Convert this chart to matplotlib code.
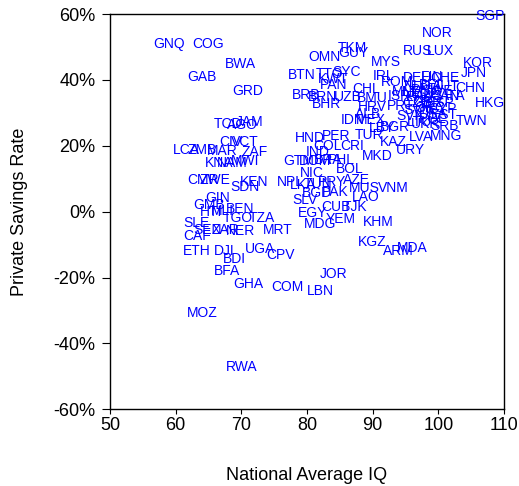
import matplotlib
matplotlib.use("Agg")
import matplotlib.pyplot as plt
from matplotlib.ticker import FuncFormatter, FixedLocator

plt.rcParams['font.family'] = ['Liberation Sans', 'DejaVu Sans']

codes = ["SGP","NOR","RUS","LUX","KOR","JPN","CHN","HKG","TWN","TKM","GUY","OMN","MYS",
         "BTN","TTO","SYC","KWT","PAN","BRB","BRN","UZB","BHR","IRL","ROM","DEU","FIN","CHE",
         "CHL","BMU","HRV","ALB","IDN","MEX","ISR","PRT","NLD","BEL","AUT","DNK","SWE","NZL",
         "AUS","CAN","ITA","FRA","GBR","ESP","CZE","GRC","CYP","SVN","USA","SVK","EST","POL",
         "LTU","UKR","BGR","LBY","SRB","MLT","HND","PER","TUR","KAZ","LVA","MNG","URY","MKD",
         "IND","COL","CRI","GTM","DOM","BRA","PHL","NIC","BOL","NPL","LKA","TUN","PRY","AZE",
         "MUS","VNM","BGD","PAK","SLV","LAO","CUB","TJK","EGY","YEM","MDG","KHM","KGZ","ARM",
         "MDA","JOR","LBN","COM","CPV","UGA","GHA","BFA","BDI","ETH","DJI","CAF","SLE","SEN",
         "ZAR","NER","MRT","GIN","GMB","HTI","MLI","BEN","TGO","TZA","CMR","ZWE","SDN","KEN",
         "KNA","NAM","MWI","LCA","ZMB","MAR","ZAF","CIV","VCT","TCD","AGO","JAM","GNQ","COG",
         "BWA","GAB","GRD","MOZ","RWA"]

iq = [107.9,99.9,96.9,100.3,106.0,105.4,104.8,107.9,105.1,86.9,87.0,82.6,92.0,
      79.2,83.5,86.1,84.0,84.0,79.8,82.4,86.2,83.0,91.7,93.7,96.9,99.0,101.0,
      89.0,89.9,89.9,89.3,86.9,89.7,94.0,94.2,96.9,99.0,101.2,98.0,99.9,96.4,
      98.7,101.0,102.5,97.2,98.4,100.3,96.6,98.7,100.7,96.9,99.2,95.7,101.0,99.2,
      97.2,98.0,93.4,91.4,101.0,94.9,80.5,84.4,89.4,93.2,97.4,101.2,95.7,90.7,
      81.7,83.2,86.9,78.8,81.2,83.2,85.2,80.8,86.5,77.4,79.4,81.7,83.8,87.6,
      88.8,93.1,81.5,84.3,79.7,89.0,84.4,87.3,80.8,85.2,82.0,90.8,89.9,93.9,
      96.0,84.0,82.0,77.0,76.0,72.8,71.0,67.8,68.9,63.2,67.4,63.2,63.2,64.8,
      67.5,69.8,75.6,66.4,65.1,65.4,67.1,69.8,69.5,73.1,64.2,66.0,70.6,71.9,
      66.6,68.6,70.6,61.6,64.0,67.1,72.1,68.4,70.6,68.0,70.1,71.3,59.0,64.9,
      69.9,64.0,71.0,64.0,70.1]

savings = [59.4,54.2,48.8,48.8,45.2,42.1,37.6,33.0,27.6,49.7,48.2,47.0,45.5,
           41.5,41.8,42.4,40.3,38.5,35.5,34.8,34.8,32.7,41.2,39.4,40.6,40.9,40.6,
           37.3,34.5,31.8,29.7,27.9,27.9,35.2,32.1,38.2,38.5,38.2,37.0,36.7,36.4,
           35.2,35.2,35.2,34.8,33.3,33.0,33.0,31.5,31.2,30.9,29.7,29.1,29.4,28.2,
           27.3,26.7,25.8,25.5,26.1,36.4,22.4,23.0,23.3,21.2,22.7,23.0,18.8,17.0,
           18.2,20.0,20.0,15.5,15.5,15.8,15.8,11.8,13.0,9.1,8.2,8.5,9.1,9.7,
           7.3,7.3,5.8,6.1,3.6,4.5,1.5,1.5,-0.3,-2.1,-3.9,-3.0,-9.1,-12.1,
           -10.9,-18.8,-24.2,-23.0,-13.3,-11.2,-22.1,-17.9,-14.5,-12.1,-12.1,-7.3,-3.3,-5.5,
           -5.5,-5.8,-5.5,4.2,2.1,0.0,0.3,0.9,-1.8,-1.8,9.7,9.7,7.6,9.1,
           14.8,14.8,15.5,18.8,18.8,18.5,18.2,21.2,21.2,26.7,26.4,27.3,50.9,50.9,
           44.8,40.9,36.6,-30.9,-47.3]

x_ticks = [50, 60, 70, 80, 90, 100, 110]
y_ticks = [-60, -40, -20, 0, 20, 40, 60]

fig = plt.figure(figsize=(5.19, 4.86), dpi=100)
ax = fig.add_axes([0.212, 0.158, 0.759, 0.813])

for c, xv, yv in zip(codes, iq, savings):
    ax.text(xv, yv, c, color='#0000FF', fontsize=10, ha='center', va='center',
            clip_on=False)

ax.set_xlim(50, 110)
ax.set_ylim(-60, 60)
ax.xaxis.set_major_locator(FixedLocator(x_ticks))
ax.yaxis.set_major_locator(FixedLocator(y_ticks))
ax.yaxis.set_major_formatter(FuncFormatter(lambda v, p: f"{int(v)}%"))
ax.tick_params(axis='y', direction='out', length=5.5, width=0.8, pad=5, labelsize=13)
ax.tick_params(axis='x', direction='out', length=3.5, width=0.8, pad=2, labelsize=13)
for s in ax.spines.values():
    s.set_linewidth(1.0)
    s.set_color('black')

ax.set_xlabel("National Average IQ", fontsize=13, va='center')
ax.xaxis.set_label_coords(0.5, -0.167)
ax.set_ylabel("Private Savings Rate", fontsize=13, va='center')
ax.yaxis.set_label_coords(-0.231, 0.5)

fig.savefig("out.png", dpi=100)
